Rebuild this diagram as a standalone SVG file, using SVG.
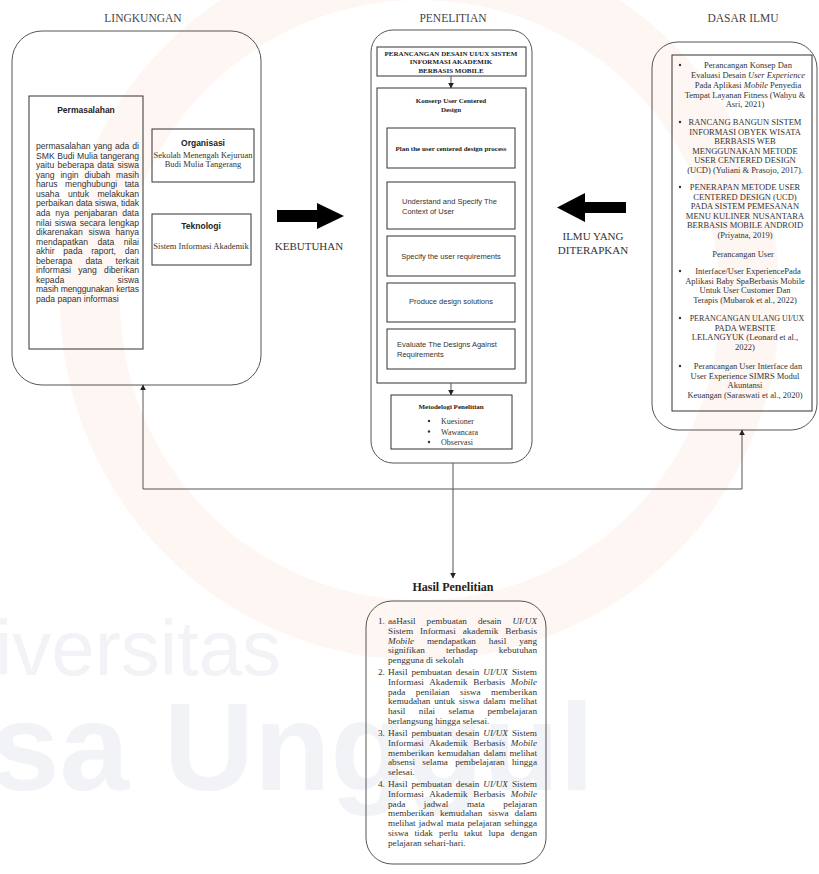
<svg xmlns="http://www.w3.org/2000/svg" width="819" height="874" viewBox="0 0 819 874">
<defs>
<marker id="ah" viewBox="0 0 10 10" refX="9" refY="5" markerWidth="6" markerHeight="6" orient="auto" markerUnits="userSpaceOnUse">
<path d="M0,0 L10,5 L0,10 z" fill="#222"/>
</marker>
<style>
.panel{fill:none;stroke:#555;stroke-width:1}
.box{fill:none;stroke:#333;stroke-width:1}
.conn{fill:none;stroke:#555;stroke-width:1}
.hdr{font-family:"Liberation Serif",serif;font-size:11.5px;fill:#444;text-anchor:middle}
.ser{font-family:"Liberation Serif",serif;font-size:8px;fill:#333}
.serc{font-family:"Liberation Serif",serif;font-size:8.5px;fill:#333;text-anchor:middle}
.serb{font-family:"Liberation Serif",serif;font-size:7px;font-weight:bold;fill:#222;text-anchor:middle}
.san{font-family:"Liberation Sans",sans-serif;font-size:8.6px;fill:#333}
.sanb{font-family:"Liberation Sans",sans-serif;font-size:8.5px;font-weight:bold;fill:#222;text-anchor:middle}
.sanc{font-family:"Liberation Sans",sans-serif;font-size:7.5px;fill:#333;text-anchor:middle}
.sanl{font-family:"Liberation Sans",sans-serif;font-size:7.5px;fill:#333}
.big{font-family:"Liberation Serif",serif;font-size:11px;fill:#333;text-anchor:middle}
.hs{font-family:"Liberation Serif",serif;font-size:9.2px;fill:#333}
.wm{font-family:"Liberation Sans",sans-serif;fill:#f2f3f7}
</style>
</defs>
<rect width="819" height="874" fill="#fff"/>
<g id="watermark">
<circle cx="420" cy="300" r="330" fill="none" stroke="#fef6f2" stroke-width="60"/>
<text class="wm" x="-5" y="675" font-size="78">iversitas</text>
<text class="wm" x="-10" y="790" font-size="125" font-weight="bold">sa Unggul</text>
</g>

<g id="headers">
<text class="hdr" x="143" y="22">LINGKUNGAN</text>
<text class="hdr" x="453" y="22">PENELITIAN</text>
<text class="hdr" x="743" y="22">DASAR ILMU</text>
</g>

<g id="lingkungan">
<rect class="panel" x="12" y="31" width="249" height="354" rx="30"/>
</g>
<g id="permasalahan">
<rect class="box" x="29" y="96" width="114" height="253"/>
<text class="sanb" x="86" y="113">Permasalahan</text>
<g class="san" lengthAdjust="spacing">
<text x="36" y="149" word-spacing="0.57" textLength="103">permasalahan yang ada di</text>
<text x="36" y="158.6" word-spacing="0.23" textLength="103">SMK Budi Mulia tangerang</text>
<text x="36" y="168.1" word-spacing="1" textLength="103">yaitu beberapa data siswa</text>
<text x="36" y="177.7" word-spacing="3.4" textLength="103">yang ingin diubah masih</text>
<text x="36" y="187.2" word-spacing="5.1" textLength="103">harus menghubungi tata</text>
<text x="36" y="196.8" word-spacing="6.1" textLength="103">usaha untuk melakukan</text>
<text x="36" y="206.4" textLength="103">perbaikan data siswa, tidak</text>
<text x="36" y="215.9" word-spacing="2.6" textLength="103">ada nya penjabaran data</text>
<text x="36" y="225.5" word-spacing="1" textLength="103">nilai siswa secara lengkap</text>
<text x="36" y="235" word-spacing="3.2" textLength="103">dikarenakan siswa hanya</text>
<text x="36" y="244.6" word-spacing="7" textLength="103">mendapatkan data nilai</text>
<text x="36" y="254.2" word-spacing="6.3" textLength="103">akhir pada raport, dan</text>
<text x="36" y="263.7" word-spacing="10.8" textLength="103">beberapa data terkait</text>
<text x="36" y="273.3" word-spacing="4.9" textLength="103">informasi yang diberikan</text>
<text x="36" y="282.8" word-spacing="50.9" textLength="103">kepada siswa</text>
<text x="36" y="292.4" textLength="103">masih menggunakan kertas</text>
<text x="36" y="302">pada papan informasi</text>
</g>
</g>
<g id="organisasi">
<rect class="box" x="152" y="129" width="102" height="53"/>
<text class="sanb" x="203" y="146">Organisasi</text>
<text class="serc" x="203" y="158" font-size="7.5">Sekolah Menengah Kejuruan</text>
<text class="serc" x="203" y="167" font-size="7.5">Budi Mulia Tangerang</text>
</g>
<g id="teknologi">
<rect class="box" x="152" y="214" width="99" height="51"/>
<text class="sanb" x="201" y="229">Teknologi</text>
<text class="serc" x="201" y="249" font-size="7.5">Sistem Informasi Akademik</text>
</g>

<g id="kebutuhan">
<polygon points="277,210 317,210 317,203 344,216 317,229 317,222 277,222" fill="#000"/>
<text class="big" x="309" y="250">KEBUTUHAN</text>
</g>

<g id="penelitian">
<rect class="panel" x="371" y="30" width="161" height="433" rx="22"/>
</g>
<g id="judul">
<rect class="box" x="377" y="47" width="149" height="29"/>
<text class="serb" x="451" y="55.5" font-size="7.3">PERANCANGAN DESAIN UI/UX SISTEM</text>
<text class="serb" x="451" y="64" font-size="7.3">INFORMASI AKADEMIK</text>
<text class="serb" x="451" y="72.5" font-size="7.3">BERBASIS MOBILE</text>
</g>
<g id="konsep">
<rect class="box" x="377" y="88" width="149" height="295"/>
<text class="serb" x="451" y="103">Konserp User Centered</text>
<text class="serb" x="451" y="112">Design</text>
</g>
<g id="plan">
<rect class="box" x="387" y="128" width="128" height="40"/>
<text class="serb" x="451" y="151">Plan the user centered design process</text>
</g>
<g id="understand">
<rect class="box" x="387" y="182" width="128" height="47"/>
<text class="sanl" x="402" y="204">Understand and Specify The</text>
<text class="sanl" x="402" y="213.5">Context of User</text>
</g>
<g id="specify">
<rect class="box" x="387" y="236" width="128" height="40"/>
<text class="sanc" x="451" y="259">Specify the user requirements</text>
</g>
<g id="produce">
<rect class="box" x="387" y="283" width="128" height="39"/>
<text class="sanc" x="451" y="304">Produce design solutions</text>
</g>
<g id="evaluate">
<rect class="box" x="387" y="329" width="128" height="40"/>
<text class="sanl" x="397" y="347">Evaluate The Designs Against</text>
<text class="sanl" x="397" y="356.5">Requirements</text>
</g>
<g id="metodologi">
<rect class="box" x="391" y="395" width="121" height="54"/>
<text class="serb" x="451" y="409">Metodelogi Penelitian</text>
<g class="ser" font-size="8.5">
<circle cx="429" cy="421" r="1.2" fill="#333"/>
<text x="441" y="424">Kuesioner</text>
<circle cx="429" cy="431.5" r="1.2" fill="#333"/>
<text x="441" y="434.5">Wawancara</text>
<circle cx="429" cy="442" r="1.2" fill="#333"/>
<text x="441" y="445">Observasi</text>
</g>
</g>

<g id="diterapkan">
<polygon points="626,202 585,202 585,193 557,207.5 585,222 585,213 626,213" fill="#000"/>
<text class="big" x="593" y="240">ILMU YANG</text>
<text class="big" x="593" y="254">DITERAPKAN</text>
</g>

<g id="dasar-ilmu">
<rect class="panel" x="652" y="42" width="165" height="388" rx="26"/>
<rect class="box" x="672" y="55" width="140" height="356"/>
<g fill="#333">
<circle cx="680" cy="65" r="1.2"/>
<circle cx="680" cy="122" r="1.2"/>
<circle cx="680" cy="187" r="1.2"/>
<circle cx="680" cy="271" r="1.2"/>
<circle cx="680" cy="318" r="1.2"/>
<circle cx="680" cy="366" r="1.2"/>
</g>
<g class="serc">
<text x="748" y="68">Perancangan Konsep Dan</text>
<text x="748" y="78">Evaluasi Desain <tspan font-style="italic">User Experience</tspan></text>
<text x="748" y="88">Pada Aplikasi <tspan font-style="italic">Mobile</tspan> Penyedia</text>
<text x="745" y="97.5">Tempat Layanan Fitness (Wahyu &amp;</text>
<text x="745" y="107">Asri, 2021)</text>

<text x="745" y="125">RANCANG BANGUN SISTEM</text>
<text x="745" y="134.5">INFORMASI OBYEK WISATA</text>
<text x="745" y="144">BERBASIS WEB</text>
<text x="745" y="153.5">MENGGUNAKAN METODE</text>
<text x="745" y="163">USER CENTERED DESIGN</text>
<text x="745" y="172.5">(UCD) (Yuliani &amp; Prasojo, 2017).</text>

<text x="745" y="190">PENERAPAN METODE USER</text>
<text x="745" y="199.5">CENTERED DESIGN (UCD)</text>
<text x="745" y="209">PADA SISTEM PEMESANAN</text>
<text x="745" y="218.5">MENU KULINER NUSANTARA</text>
<text x="745" y="228">BERBASIS MOBILE ANDROID</text>
<text x="745" y="238">(Priyatna, 2019)</text>

<text x="743" y="257">Perancangan User</text>

<text x="748" y="274">Interface/User ExperiencePada</text>
<text x="745" y="283.5">Aplikasi Baby SpaBerbasis Mobile</text>
<text x="745" y="293">Untuk User Customer Dan</text>
<text x="745" y="302.5">Terapis (Mubarok et al., 2022)</text>

<text x="747" y="321" font-size="8">PERANCANGAN ULANG UI/UX</text>
<text x="745" y="330.5">PADA WEBSITE</text>
<text x="745" y="340">LELANGYUK (Leonard et al.,</text>
<text x="745" y="349.5">2022)</text>

<text x="748" y="369">Perancangan User Interface dan</text>
<text x="745" y="378.5">User Experience SIMRS Modul</text>
<text x="745" y="388">Akuntansi</text>
<text x="745" y="397.5">Keuangan (Saraswati et al., 2020)</text>
</g>
</g>

<g id="hasil">
<text x="453" y="591" font-family="Liberation Serif, serif" font-size="12" font-weight="bold" fill="#222" text-anchor="middle">Hasil Penelitian</text>
<rect class="panel" x="366" y="601" width="180" height="263" rx="26"/>
<g class="hs" lengthAdjust="spacing">
<text x="378" y="624">1.</text>
<text x="388" y="624" word-spacing="8.7" textLength="149">aaHasil pembuatan desain <tspan font-style="italic">UI/UX</tspan></text>
<text x="388" y="633.8" word-spacing="4.6" textLength="149">Sistem Informasi akademik Berbasis</text>
<text x="388" y="643.6" word-spacing="10.6" textLength="149"><tspan font-style="italic">Mobile</tspan> mendapatkan hasil yang</text>
<text x="388" y="653.4" word-spacing="18.8" textLength="149">signifikan terhadap kebutuhan</text>
<text x="388" y="663.2">pengguna di sekolah</text>

<text x="378" y="675">2.</text>
<text x="388" y="675" word-spacing="1.7" textLength="149">Hasil pembuatan desain <tspan font-style="italic">UI/UX</tspan> Sistem</text>
<text x="388" y="684.8" word-spacing="3.4" textLength="149">Informasi Akademik Berbasis <tspan font-style="italic">Mobile</tspan></text>
<text x="388" y="694.6" word-spacing="8.2" textLength="149">pada penilaian siswa memberikan</text>
<text x="388" y="704.4" word-spacing="1.5" textLength="149">kemudahan untuk siswa dalam melihat</text>
<text x="388" y="714.2" word-spacing="11.1" textLength="149">hasil nilai selama pembelajaran</text>
<text x="388" y="724">berlangsung hingga selesai.</text>

<text x="378" y="736">3.</text>
<text x="388" y="736" word-spacing="1.7" textLength="149">Hasil pembuatan desain <tspan font-style="italic">UI/UX</tspan> Sistem</text>
<text x="388" y="745.8" word-spacing="3.4" textLength="149">Informasi Akademik Berbasis <tspan font-style="italic">Mobile</tspan></text>
<text x="388" y="755.6" word-spacing="1.2" textLength="149">memberikan kemudahan dalam melihat</text>
<text x="388" y="765.4" word-spacing="5" textLength="149">absensi selama pembelajaran hingga</text>
<text x="388" y="775.2">selesai.</text>

<text x="378" y="787">4.</text>
<text x="388" y="787" word-spacing="1.7" textLength="149">Hasil pembuatan desain <tspan font-style="italic">UI/UX</tspan> Sistem</text>
<text x="388" y="796.8" word-spacing="3.4" textLength="149">Informasi Akademik Berbasis <tspan font-style="italic">Mobile</tspan></text>
<text x="388" y="806.6" word-spacing="16.2" textLength="149">pada jadwal mata pelajaran</text>
<text x="388" y="816.4" word-spacing="3.6" textLength="149">memberikan kemudahan siswa dalam</text>
<text x="388" y="826.2" word-spacing="0.8" textLength="149">melihat jadwal mata pelajaran sehingga</text>
<text x="388" y="836" word-spacing="3.8" textLength="149">siswa tidak perlu takut lupa dengan</text>
<text x="388" y="845.8">pelajaran sehari-hari.</text>
</g>
</g>

<g id="connectors">
<line class="conn" x1="451" y1="76" x2="451" y2="88" marker-end="url(#ah)"/>
<line class="conn" x1="451" y1="383" x2="451" y2="395" marker-end="url(#ah)"/>
<line class="conn" x1="453" y1="463" x2="453" y2="578" marker-end="url(#ah)"/>
<polyline class="conn" points="453,489 143,489 143,385" marker-end="url(#ah)"/>
<polyline class="conn" points="453,489 742,489 742,430" marker-end="url(#ah)"/>
</g>
</svg>
